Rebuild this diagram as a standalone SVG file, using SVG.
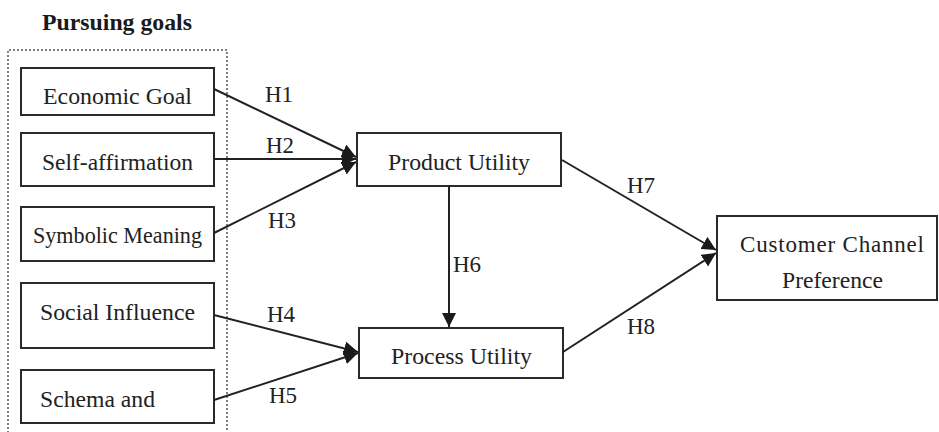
<svg xmlns="http://www.w3.org/2000/svg" width="939" height="432" viewBox="0 0 939 432">
  <defs>
    <marker id="arrow" markerUnits="userSpaceOnUse" markerWidth="14" markerHeight="14" refX="14" refY="7" orient="auto">
      <path d="M0,0 L14,7 L0,14 z" fill="#1a1a1a"/>
    </marker>
  </defs>
  <rect width="939" height="432" fill="#ffffff"/>

  <!-- goal group frame -->
  <g id="pursuing-goals">
    <text x="42" y="30" font-family="Liberation Serif" font-size="23" font-weight="bold" fill="#1a1a1a" textLength="150" lengthAdjust="spacingAndGlyphs">Pursuing goals</text>
    <path d="M8,433 L8,50 L227,50 L227,433" fill="none" stroke="#555555" stroke-width="1.5" stroke-dasharray="2 2"/>
  </g>

  <g id="nodes" stroke="#2a2a2a" stroke-width="2">
    <g id="economic-goal">
      <rect x="21" y="68" width="193" height="47" fill="#ffffff"/>
      <text x="43" y="104" font-family="Liberation Serif" font-size="23" fill="#222222" stroke="none" textLength="149" lengthAdjust="spacingAndGlyphs">Economic Goal</text>
    </g>
    <g id="self-affirmation">
      <rect x="21" y="133" width="193" height="53" fill="#ffffff"/>
      <text x="42" y="170" font-family="Liberation Serif" font-size="23" fill="#222222" stroke="none" textLength="151" lengthAdjust="spacingAndGlyphs">Self-affirmation</text>
    </g>
    <g id="symbolic-meaning">
      <rect x="21" y="207" width="193" height="54" fill="#ffffff"/>
      <text x="33" y="243" font-family="Liberation Serif" font-size="23" fill="#222222" stroke="none" textLength="169" lengthAdjust="spacingAndGlyphs">Symbolic  Meaning</text>
    </g>
    <g id="social-influence">
      <rect x="21" y="283" width="193" height="65" fill="#ffffff"/>
      <text x="40" y="320" font-family="Liberation Serif" font-size="23" fill="#222222" stroke="none" textLength="155" lengthAdjust="spacingAndGlyphs">Social Influence</text>
    </g>
    <g id="schema">
      <rect x="21" y="370" width="193" height="53" fill="#ffffff"/>
      <text x="40" y="407" font-family="Liberation Serif" font-size="23" fill="#222222" stroke="none" textLength="115" lengthAdjust="spacingAndGlyphs">Schema and</text>
    </g>
    <g id="product-utility">
      <rect x="357" y="133" width="204" height="53" fill="#ffffff"/>
      <text x="388" y="170" font-family="Liberation Serif" font-size="23" fill="#222222" stroke="none" textLength="142" lengthAdjust="spacingAndGlyphs">Product Utility</text>
    </g>
    <g id="process-utility">
      <rect x="359" y="328" width="204" height="50" fill="#ffffff"/>
      <text x="391" y="364" font-family="Liberation Serif" font-size="23" fill="#222222" stroke="none" textLength="141" lengthAdjust="spacingAndGlyphs">Process Utility</text>
    </g>
    <g id="customer-channel-preference">
      <rect x="717" y="216" width="220" height="84" fill="#ffffff"/>
      <text x="740" y="252" font-family="Liberation Serif" font-size="23" fill="#222222" stroke="none" textLength="184" lengthAdjust="spacing">Customer  Channel</text>
      <text x="782" y="288" font-family="Liberation Serif" font-size="23" fill="#222222" stroke="none" textLength="101" lengthAdjust="spacingAndGlyphs">Preference</text>
    </g>
  </g>

  <!-- hypothesised paths -->
  <g id="connectors" fill="none" stroke="#222222" stroke-width="2" marker-end="url(#arrow)">
    <line x1="214" y1="89" x2="356" y2="157"/>
    <line x1="214" y1="159" x2="356" y2="159"/>
    <line x1="214" y1="233" x2="356" y2="162"/>
    <line x1="214" y1="315" x2="358" y2="352"/>
    <line x1="214" y1="400" x2="358" y2="353"/>
    <line x1="449" y1="186" x2="449" y2="327"/>
    <line x1="562" y1="160" x2="716" y2="250"/>
    <line x1="563" y1="352" x2="716" y2="253"/>
  </g>
  <g id="labels">
    <text x="265" y="102" font-family="Liberation Serif" font-size="23" fill="#222222">H1</text>
    <text x="266" y="153" font-family="Liberation Serif" font-size="23" fill="#222222">H2</text>
    <text x="268" y="228" font-family="Liberation Serif" font-size="23" fill="#222222">H3</text>
    <text x="267" y="322" font-family="Liberation Serif" font-size="23" fill="#222222">H4</text>
    <text x="269" y="403" font-family="Liberation Serif" font-size="23" fill="#222222">H5</text>
    <text x="453" y="272" font-family="Liberation Serif" font-size="23" fill="#222222">H6</text>
    <text x="627" y="193" font-family="Liberation Serif" font-size="23" fill="#222222">H7</text>
    <text x="627" y="334" font-family="Liberation Serif" font-size="23" fill="#222222">H8</text>
  </g>
</svg>
